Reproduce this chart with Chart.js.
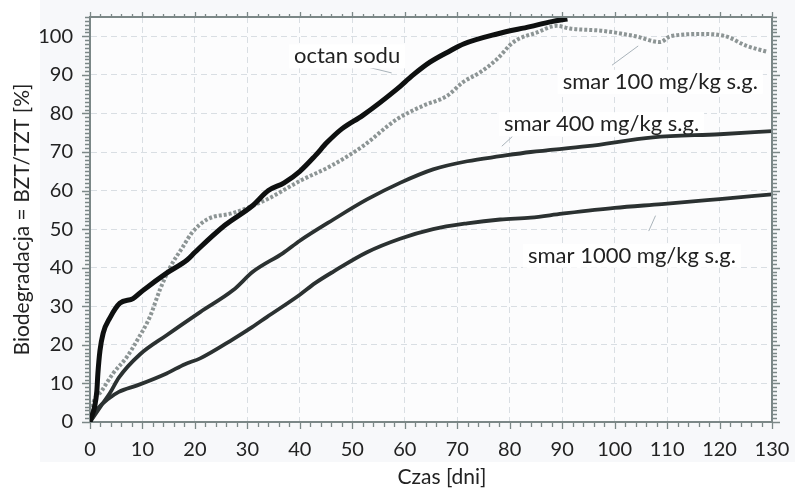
<!DOCTYPE html>
<html>
<head>
<meta charset="utf-8">
<script src="https://cdn.jsdelivr.net/npm/chart.js@4.4.1/dist/chart.umd.min.js"></script>
<style>
  html, body { margin: 0; padding: 0; background: #fff; }
  #wrap { width: 795px; height: 489px; position: relative; }
</style>
</head>
<body>
<div id="wrap"><canvas id="wykres"></canvas></div>
<script>
// dane: czas [dni] i biodegradacja [%]
const octanX = [0, 1.3, 1.5, 1.9, 2.5, 3.8, 5.7, 8.2, 10, 14.6, 18.5, 20, 25.7, 30.9, 34, 37, 40, 42.9, 45.2, 48, 52, 58.5, 61.6, 64.8, 68.6, 71.2, 77.6, 83.9, 88, 91];
const octanY = [0, 8, 12.5, 18.5, 23, 27, 30.8, 32, 34, 38.6, 42, 44, 51, 56, 60, 62, 65, 69, 72.5, 76, 79.5, 86.3, 90, 93.3, 96.2, 98, 100.6, 102.5, 103.8, 104.5];

const smar100X = [0, 0.6, 2.2, 4.4, 7, 9, 11.4, 13.3, 15.3, 17.7, 19.4, 22.3, 27.3, 33.7, 40, 45.8, 52, 58.5, 63.5, 68, 71.1, 74.4, 77.6, 80.7, 85.2, 89, 91.5, 97.8, 104, 108.7, 110.6, 117, 121.4, 125, 129];
const smar100Y = [0, 4.8, 8, 12.6, 16.8, 21.2, 27.2, 34.2, 40.2, 45.4, 49, 52.5, 54.2, 57.7, 62.5, 66.3, 71.5, 78.5, 82, 84.5, 88.1, 90.7, 94.1, 98.5, 101, 102.7, 102, 101.4, 100, 98.5, 100, 100.6, 99.9, 97.6, 96];

const smar400X = [0, 2, 3.8, 5.5, 9.5, 14.6, 21, 27.3, 31.1, 36.8, 40, 46.4, 52.8, 59.1, 65.4, 71.9, 78.2, 84, 94.8, 107.3, 120, 130];
const smar400Y = [0, 4, 7.5, 11.5, 17.5, 22.5, 28.5, 34.2, 39, 43.8, 47, 52.5, 57.7, 62, 65.5, 67.6, 68.9, 70, 71.5, 73.8, 74.6, 75.4];

const smar1000X = [0, 1.5, 3.5, 5.5, 9, 14.6, 18.1, 21, 27.3, 30.9, 33.7, 40, 42.9, 46.4, 52.8, 59.1, 65.4, 71.9, 78.2, 84, 90, 100, 109, 120, 130];
const smar1000Y = [0, 3.5, 6, 7.8, 9.5, 12.6, 15, 16.5, 21.5, 24.6, 27.2, 33, 36, 39, 44, 47.5, 50, 51.5, 52.5, 53, 54, 55.5, 56.5, 57.8, 59];

const xTicks = [0, 10, 20, 30, 40, 50, 60, 70, 80, 90, 100, 110, 120, 130];
const yTicks = [0, 10, 20, 30, 40, 50, 60, 70, 80, 90, 100];

// podpisy krzywych: tekst, położenie środka napisu i linia odniesienia (w jednostkach osi)
const podpisy = [
    { tekst: 'octan sodu', x: 49, y: 94.8, linia: [51.5, 92.5, 57.5, 90.5] },
    { tekst: 'smar 100 mg/kg s.g.', x: 108.7, y: 88.2, linia: [99.5, 92.5, 104.5, 97.5] },
    { tekst: 'smar 400 mg/kg s.g.', x: 97.5, y: 77.2, linia: [78.5, 71.5, 80.5, 74] },
    { tekst: 'smar 1000 mg/kg s.g.', x: 103.3, y: 43.1, linia: [106.5, 49.5, 107.8, 53.5] }
];

const FONT = 'Lato';
const KOLOR_TEKSTU = '#222';
const KOLOR_OSI = '#7b8787';

function punkty(xs, ys) {
    return xs.map((x, i) => ({ x: x, y: ys[i] }));
}

const tlo = {
    id: 'tlo',
    beforeDraw(chart) {
        const ctx = chart.ctx;
        const a = chart.chartArea;
        ctx.save();
        ctx.fillStyle = '#ffffff';
        ctx.fillRect(0, 0, chart.width, chart.height);
        ctx.fillStyle = '#f7f8fa';
        ctx.fillRect(40, 0, chart.width - 40, 462);
        ctx.fillStyle = '#fcfcfd';
        ctx.fillRect(a.left, a.top, a.right - a.left, a.bottom - a.top);
        ctx.restore();
    }
};

const ramka = {
    id: 'ramka',
    afterDraw(chart) {
        const ctx = chart.ctx;
        const a = chart.chartArea;
        const sx = chart.scales.x;
        const sy = chart.scales.y;
        ctx.save();
        ctx.strokeStyle = KOLOR_OSI;
        ctx.lineWidth = 2;
        ctx.beginPath();
        ctx.moveTo(a.left, a.top);
        ctx.lineTo(a.right, a.top);
        ctx.lineTo(a.right, a.bottom);
        ctx.stroke();
        ctx.lineWidth = 1.3;
        ctx.beginPath();
        for (let v = 0; v <= sx.max; v += 2) {
            const px = Math.round(sx.getPixelForValue(v)) + 0.5;
            const d = v % 10 === 0 ? 7 : 5;
            ctx.moveTo(px, a.bottom);
            ctx.lineTo(px, a.bottom + d);
            ctx.moveTo(px, a.top);
            ctx.lineTo(px, a.top - d + 2);
        }
        for (let v = 0; v <= sy.max; v += 1) {
            const py = Math.round(sy.getPixelForValue(v)) + 0.5;
            const d = v % 10 === 0 ? 8 : 5;
            ctx.moveTo(a.left, py);
            ctx.lineTo(a.left - d, py);
            ctx.moveTo(a.right, py);
            ctx.lineTo(a.right + d, py);
        }
        ctx.stroke();

        // tytuł osi X (w oryginale lekko przesunięty w prawo)
        ctx.font = '21px ' + FONT;
        ctx.fillStyle = KOLOR_TEKSTU;
        ctx.textAlign = 'center';
        ctx.textBaseline = 'middle';
        ctx.fillText('Czas [dni]', (a.left + a.right) / 2 + 11, 477);
        ctx.restore();
    }
};

const etykiety = {
    id: 'etykiety',
    beforeDatasetsDraw(chart) {
        const ctx = chart.ctx;
        const sx = chart.scales.x;
        const sy = chart.scales.y;
        ctx.save();
        ctx.font = '22px ' + FONT;
        ctx.textAlign = 'center';
        ctx.textBaseline = 'middle';
        podpisy.forEach(p => {
            ctx.strokeStyle = '#a9b3ba';
            ctx.lineWidth = 1;
            ctx.beginPath();
            ctx.moveTo(sx.getPixelForValue(p.linia[0]), sy.getPixelForValue(p.linia[1]));
            ctx.lineTo(sx.getPixelForValue(p.linia[2]), sy.getPixelForValue(p.linia[3]));
            ctx.stroke();
            const px = sx.getPixelForValue(p.x);
            const py = sy.getPixelForValue(p.y);
            const w = ctx.measureText(p.tekst).width;
            ctx.fillStyle = '#ffffff';
            ctx.fillRect(px - w / 2 - 5, py - 12, w + 10, 24);
            ctx.fillStyle = KOLOR_TEKSTU;
            ctx.fillText(p.tekst, px, py);
        });
        ctx.restore();
    }
};

const ctx = document.getElementById('wykres').getContext('2d');

new Chart(ctx, {
    type: 'line',
    data: {
        datasets: [
            {
                label: 'octan sodu',
                data: punkty(octanX, octanY),
                borderColor: '#0e1010',
                borderWidth: 5,
                pointRadius: 0,
                cubicInterpolationMode: 'monotone',
                order: 1
            },
            {
                label: 'smar 400 mg/kg s.g.',
                data: punkty(smar400X, smar400Y),
                borderColor: '#2b3131',
                borderWidth: 3.8,
                pointRadius: 0,
                cubicInterpolationMode: 'monotone',
                order: 2
            },
            {
                label: 'smar 1000 mg/kg s.g.',
                data: punkty(smar1000X, smar1000Y),
                borderColor: '#2b3131',
                borderWidth: 3.8,
                pointRadius: 0,
                cubicInterpolationMode: 'monotone',
                order: 3
            },
            {
                label: 'smar 100 mg/kg s.g.',
                data: punkty(smar100X, smar100Y),
                borderColor: '#8d9595',
                borderWidth: 4,
                borderDash: [3, 2],
                pointRadius: 0,
                cubicInterpolationMode: 'monotone',
                order: 4
            }
        ]
    },
    options: {
        responsive: true,
        maintainAspectRatio: false,
        animation: false,
        devicePixelRatio: 1,
        layout: {
            padding: { left: 0, right: 23, top: 17, bottom: 0 }
        },
        plugins: {
            legend: { display: false },
            tooltip: { enabled: false }
        },
        scales: {
            x: {
                type: 'linear',
                min: 0,
                max: 130,
                afterBuildTicks: s => { s.ticks = xTicks.map(v => ({ value: v })); },
                afterFit: s => {
                    s.height = 67;
                    s.paddingLeft = 0;
                    s.paddingRight = 0;
                },
                ticks: {
                    font: { family: FONT, size: 20 },
                    color: KOLOR_TEKSTU,
                    padding: 16,
                    maxRotation: 0
                },
                grid: {
                    color: '#d9dee3',
                    drawTicks: false
                },
                border: { color: KOLOR_OSI, width: 2, dash: [6, 4] },
                title: { display: false }
            },
            y: {
                min: 0,
                max: 105,
                afterBuildTicks: s => { s.ticks = yTicks.map(v => ({ value: v })); },
                afterFit: s => {
                    s.width = 90;
                    s.paddingTop = 0;
                    s.paddingBottom = 0;
                },
                ticks: {
                    font: { family: FONT, size: 20 },
                    color: KOLOR_TEKSTU,
                    padding: 17
                },
                grid: {
                    color: '#d9dee3',
                    drawTicks: false
                },
                border: { color: KOLOR_OSI, width: 2, dash: [6, 4] },
                title: {
                    display: true,
                    text: 'Biodegradacja = BZT/TZT [%]',
                    font: { family: FONT, size: 21 },
                    color: KOLOR_TEKSTU,
                    padding: { top: 10, bottom: 0 }
                }
            }
        }
    },
    plugins: [tlo, ramka, etykiety]
});
</script>
</body>
</html>
